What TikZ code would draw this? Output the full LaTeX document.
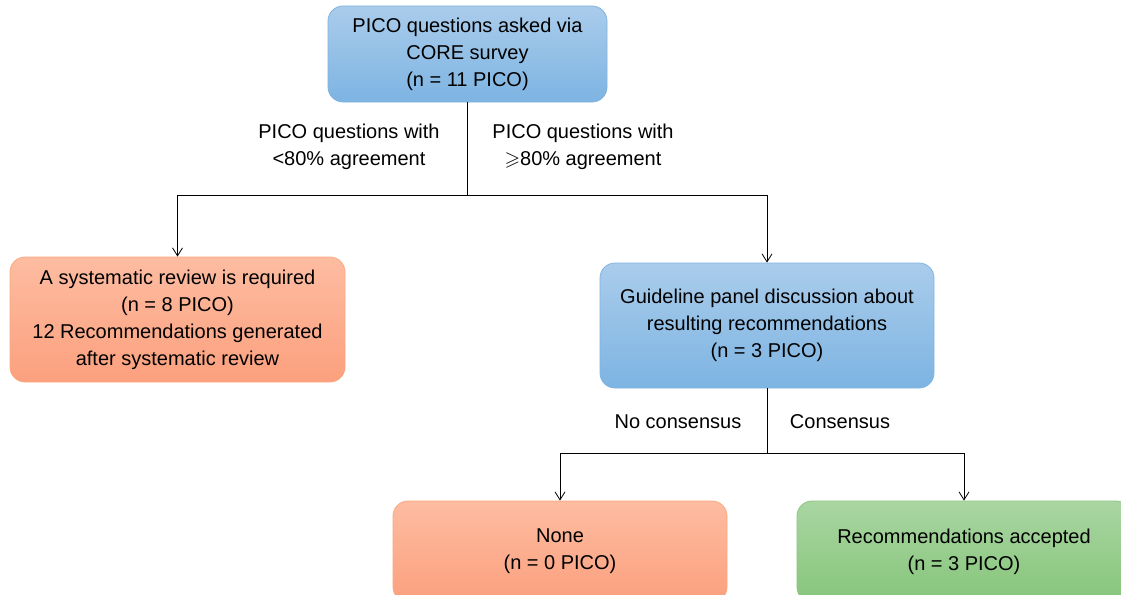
\documentclass[tikz,border=0pt]{standalone}
\usepackage{fontspec}
\setmainfont{Liberation Sans}
\usepackage{amssymb}
\usetikzlibrary{arrows.meta}

\definecolor{bluetop}{HTML}{AACCEB}
\definecolor{bluebot}{HTML}{7DB4E2}
\definecolor{blueedge}{HTML}{82B4E0}
\definecolor{orangetop}{HTML}{FDBCA1}
\definecolor{orangebot}{HTML}{FCA07E}
\definecolor{orangeedge}{HTML}{F9AA80}
\definecolor{greentop}{HTML}{A9D6A2}
\definecolor{greenbot}{HTML}{86C57A}
\definecolor{greenedge}{HTML}{8DC581}

\begin{document}
\begin{tikzpicture}[x=1pt,y=-1pt,
        font=\fontsize{20}{27}\selectfont,
        box/.style={draw, rounded corners=15pt, align=center, inner sep=0pt, line width=0.8pt},
        bluebox/.style={box, draw=blueedge, top color=bluetop, bottom color=bluebot},
        orangebox/.style={box, draw=orangeedge, top color=orangetop, bottom color=orangebot},
        greenbox/.style={box, draw=greenedge, top color=greentop, bottom color=greenbot},
        line/.style={line width=0.8pt},
        link/.style={line, -{Straight Barb[length=8pt,width=10pt]}},
        label/.style={align=center, inner sep=0pt}]
    \clip (0,0) rectangle (1121,594);
    \fill[white] (0,0) rectangle (1121,594);

    % boxes
    \node[bluebox, minimum width=279pt, minimum height=96pt] (survey) at (467.5,54)
        {PICO questions asked via\\CORE survey\\(n = 11 PICO)};
    \node[orangebox, minimum width=335pt, minimum height=125pt] (review) at (177.5,319.5)
        {A systematic review is required\\(n = 8 PICO)\\12 Recommendations generated\\after systematic review};
    \node[bluebox, minimum width=334pt, minimum height=125pt] (panel) at (767,325.5)
        {Guideline panel discussion about\\resulting recommendations\\(n = 3 PICO)};
    \node[orangebox, minimum width=334pt, minimum height=101pt] (none) at (560,551.5)
        {None\\(n = 0 PICO)};
    \node[greenbox, minimum width=334pt, minimum height=101pt] (accepted) at (964,551.5)
        {Recommendations accepted\\(n = 3 PICO)};

    % first split
    \draw[line] (survey.south) -- ++(0,93) coordinate (fork);
    \draw[link] (fork) -| (review.north);
    \draw[link] (fork) -| (panel.north);
    \node[label] (low) at (349,146.5) {PICO questions with\\<80\% agreement};
    \node[label] (high) at (583,146.5) {PICO questions with\\$\geqslant$80\% agreement};

    % second split
    \draw[line] (panel.south) -- ++(0,65) coordinate (fork2);
    \draw[link] (fork2) -| (none.north);
    \draw[link] (fork2) -| (accepted.north);
    \node[label] (nocons) at (678,422) {No consensus};
    \node[label] (cons) at (840,422) {Consensus};
\end{tikzpicture}
\end{document}
